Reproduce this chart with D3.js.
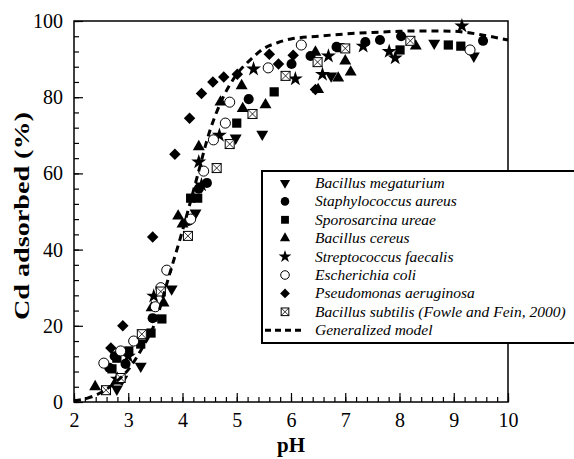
<!DOCTYPE html>
<html>
<head>
<meta charset="utf-8">
<script src="https://cdn.jsdelivr.net/npm/d3@7"></script>
<style>
body { margin: 0; background: #fff; }
svg text { font-family: "Liberation Serif", "DejaVu Serif", serif !important; }
</style>
</head>
<body>
<div id="chart"></div>
<script>
// [pH, Cd adsorbed %]
var megaterium = [[2.79,3.4],[2.89,6],[3.23,9.4],[3.8,29.7],[4.24,49.6],[4.98,69.3],[5.47,70.3],[6.74,85.6],[8.64,94.2],[9.37,90.8]];
var aureus = [[2.65,9],[2.75,12],[2.95,10],[3.45,22],[4.11,47.5],[4.3,56],[4.45,57.5],[5.22,79.5],[6.01,88.7],[6.36,90.8],[6.84,93.2],[7.37,94.5],[7.64,95],[8.03,96],[9.54,94.8]];
var ureae = [[2.7,8.7],[2.79,11.5],[3.01,13.4],[3.23,15.2],[3.42,18.1],[3.62,21.8],[4.15,53.5],[4.28,53.5],[5.0,73.2],[5.69,81.4],[6.9,93],[8.01,92.4],[8.9,93.7],[9.13,93.4]];
var cereus = [[2.39,4],[2.78,5.5],[3.43,24.7],[3.65,26],[3.92,48.8],[4.0,46.7],[4.3,67],[4.7,78.7],[5.09,83],[5.11,77],[5.53,78],[6.45,91.8],[6.5,82],[6.87,85],[7.0,89.5],[7.1,86.6],[8.3,93.4]];
var faecalis = [[2.8,6],[3.0,12],[3.47,27.8],[4.3,63],[4.35,57],[4.68,70],[5.31,87.4],[6.08,84.8],[6.58,86],[6.69,90.8],[7.33,93.4],[7.81,92],[7.92,90.3],[9.15,98.7]];
var coli = [[2.55,10.2],[2.86,13.4],[3.1,16],[3.5,25],[3.6,30],[3.71,34.6],[4.15,48],[4.39,60.6],[4.57,68.8],[4.79,73.2],[4.87,78.7],[5.58,87.7],[6.19,93.7],[9.3,92.4]];
var aeruginosa = [[2.68,14.2],[2.9,20],[3.45,43.3],[3.86,65],[4.13,74.5],[4.35,81],[4.56,84],[4.76,85.3],[5.01,86],[5.6,91.3],[5.77,88.7],[6.04,91],[6.45,82]];
var subtilis = [[2.59,3.1],[2.86,6.3],[3.25,17.8],[3.6,29],[4.1,43.6],[4.63,61.4],[4.87,67.7],[5.29,75.6],[5.9,85.6],[6.49,89.2],[7.0,92.8],[8.2,94.8]];

var modelPH = [2, 2.25, 2.5, 2.75, 3, 3.25, 3.5, 3.75, 4, 4.25, 4.5, 4.75, 5, 5.25, 5.5, 5.75, 6, 6.5, 7, 7.5, 8, 8.5, 9, 9.5, 10];
var modelCd = [0.3, 1, 2.5, 5, 8.5, 14, 21, 33, 45, 58, 71, 80, 86, 89.8, 92.8, 94.3, 95.3, 96, 96.6, 97, 97.3, 97.4, 97.3, 96.4, 95];

var names = ["Bacillus megaturium", "Staphylococcus aureus", "Sporosarcina ureae", "Bacillus cereus",
  "Streptococcus faecalis", "Escherichia coli", "Pseudomonas aeruginosa", "Bacillus subtilis (Fowle and Fein, 2000)"];
var kinds = ["down", "circle", "square", "up", "star", "open", "diamond", "xsquare"];
var series = [megaterium, aureus, ureae, cereus, faecalis, coli, aeruginosa, subtilis];
var xTicks = [2, 3, 4, 5, 6, 7, 8, 9, 10];
var yTicks = [0, 20, 40, 60, 80, 100];

var W = 574, H = 459;
var svg = d3.select("#chart").append("svg").attr("width", W).attr("height", H)
  .attr("font-family", "Liberation Serif");

var x = d3.scaleLinear().domain([2, 10]).range([74, 508]);
var y = d3.scaleLinear().domain([0, 100]).range([402, 21]);

// minor ticks
svg.append("g").attr("transform", "translate(0,402)")
  .call(d3.axisBottom(x).tickValues(d3.range(2, 10.001, 0.2)).tickSize(-5).tickFormat(""))
  .call(function(g) { g.select(".domain").remove(); });
svg.append("g").attr("transform", "translate(74,0)")
  .call(d3.axisLeft(y).tickValues(d3.range(0, 100.001, 4)).tickSize(-5).tickFormat(""))
  .call(function(g) { g.select(".domain").remove(); });

// major ticks + labels
var xa = svg.append("g").attr("transform", "translate(0,402)")
  .call(d3.axisBottom(x).tickValues(xTicks).tickSize(-9).tickPadding(11).tickFormat(d3.format("d")));
var ya = svg.append("g").attr("transform", "translate(74,0)")
  .call(d3.axisLeft(y).tickValues(yTicks).tickSize(-9).tickPadding(11).tickFormat(d3.format("d")));
[xa, ya].forEach(function(g) {
  g.select(".domain").remove();
  g.attr("font-family", "Liberation Serif").attr("font-size", 20);
});
svg.selectAll(".tick line").attr("stroke", "#000").attr("stroke-width", 1.2);

svg.append("rect").attr("x", 74).attr("y", 21).attr("width", 434).attr("height", 381)
  .attr("fill", "none").attr("stroke", "#000").attr("stroke-width", 1.5);

function marker(g, kind, k) {
  k = k || 1;
  if (kind == "down") {
    g.append("path").attr("d", d3.symbol(d3.symbolTriangle, 62 * k * k)()).attr("transform", "rotate(180)");
  } else if (kind == "up") {
    g.append("path").attr("d", d3.symbol(d3.symbolTriangle, 62 * k * k)());
  } else if (kind == "circle") {
    g.append("path").attr("d", d3.symbol(d3.symbolCircle, 80 * k * k)());
  } else if (kind == "open") {
    g.append("path").attr("d", d3.symbol(d3.symbolCircle, 80 * k * k)())
      .attr("fill", "#fff").attr("stroke", "#000").attr("stroke-width", 1);
  } else if (kind == "square") {
    g.append("path").attr("d", d3.symbol(d3.symbolSquare, 85 * k * k)());
  } else if (kind == "diamond") {
    g.append("path").attr("d", d3.symbol(d3.symbolSquare, 66 * k * k)()).attr("transform", "rotate(45)");
  } else if (kind == "star") {
    g.append("path").attr("d", d3.symbol(d3.symbolStar, 70 * k * k)());
  } else if (kind == "xsquare") {
    var s = 4.5 * k;
    g.append("rect").attr("x", -s).attr("y", -s).attr("width", 2 * s).attr("height", 2 * s)
      .attr("fill", "#fff").attr("stroke", "#000").attr("stroke-width", 1);
    g.append("path").attr("d", "M" + (-s) + "," + (-s) + "L" + s + "," + s + "M" + s + "," + (-s) + "L" + (-s) + "," + s)
      .attr("stroke", "#000").attr("stroke-width", 0.8);
  }
}

series.forEach(function(data, i) {
  svg.append("g").selectAll("g")
    .data(data)
    .enter().append("g")
      .attr("transform", function(d) { return "translate(" + x(d[0]) + "," + y(d[1]) + ")"; })
      .each(function() { marker(d3.select(this), kinds[i]); });
});

var line = d3.line()
  .x(function(d, i) { return x(modelPH[i]); })
  .y(function(d) { return y(d); })
  .curve(d3.curveMonotoneX);
svg.append("path").datum(modelCd).attr("d", line)
  .attr("fill", "none").attr("stroke", "#000").attr("stroke-width", 3).attr("stroke-dasharray", "7,5");

// legend
var lg = svg.append("g");
lg.append("rect").attr("x", 262).attr("y", 171).attr("width", 330).attr("height", 172)
  .attr("fill", "#fff").attr("stroke", "#000").attr("stroke-width", 2);
names.forEach(function(n, i) {
  var ry = 183 + i * 18.4;
  var g = lg.append("g").attr("transform", "translate(285," + ry + ")");
  marker(g, kinds[i], 0.85);
  lg.append("text").attr("x", 315).attr("y", ry + 5).attr("font-size", 15.5).attr("font-style", "italic").text(n);
});
var ly = 183 + 8 * 18.4;
lg.append("line").attr("x1", 265).attr("x2", 303).attr("y1", ly).attr("y2", ly)
  .attr("stroke", "#000").attr("stroke-width", 3).attr("stroke-dasharray", "6,4");
lg.append("text").attr("x", 315).attr("y", ly + 5).attr("font-size", 15.5).attr("font-style", "italic").text("Generalized model");

// axis titles
svg.append("text").attr("transform", "translate(29,216) rotate(-90)").attr("text-anchor", "middle")
  .attr("font-size", 22).attr("font-weight", "bold")
  .attr("textLength", 208).attr("lengthAdjust", "spacingAndGlyphs").text("Cd adsorbed (%)");
svg.append("text").attr("x", x(6)).attr("y", 452).attr("text-anchor", "middle")
  .attr("font-size", 21).attr("font-weight", "bold").text("pH");

svg.selectAll("text").attr("fill", "#000");
</script>
</body>
</html>
